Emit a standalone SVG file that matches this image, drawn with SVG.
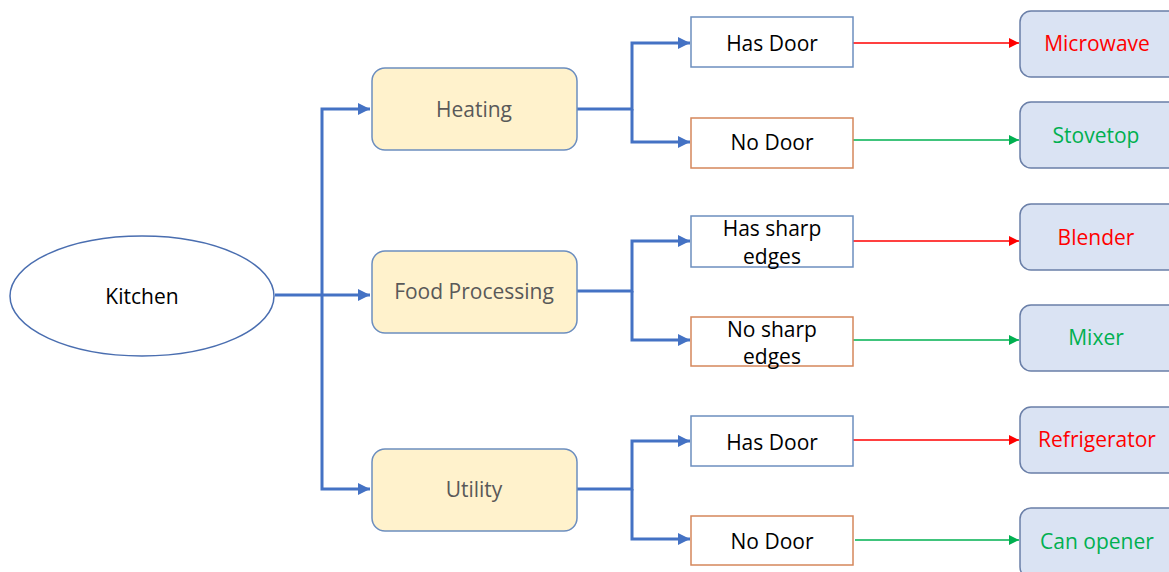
<svg xmlns="http://www.w3.org/2000/svg" width="1169" height="572" viewBox="0 0 1169 572">
  <style>
    text { font-family: "Open Sans", "Noto Sans", "Liberation Sans", sans-serif; font-size: 21px; text-anchor: middle; dominant-baseline: central; }
    .root { fill: none; stroke: #4a6eb0; stroke-width: 1.5; }
    .cat { fill: #fff2cc; stroke: #6c8ebf; stroke-width: 1.5; }
    .cat-t { fill: #595959; }
    .yes { fill: #ffffff; stroke: #6c8ebf; stroke-width: 1.5; }
    .no { fill: #ffffff; stroke: #d5875b; stroke-width: 1.5; }
    .q-t { fill: #000000; }
    .item { fill: #dae3f3; stroke: #6a7fa8; stroke-width: 1.5; }
    .red-t { fill: #ff0000; }
    .green-t { fill: #00b050; }
    .tree { fill: none; stroke: #4472c4; stroke-width: 3; }
    .red { fill: none; stroke: #ff0000; stroke-width: 1.5; }
    .green { fill: none; stroke: #00b050; stroke-width: 1.5; }
  </style>
  <defs>
    <marker id="ab" viewBox="0 0 10 10" refX="10" refY="5" markerWidth="4" markerHeight="4" orient="auto" markerUnits="strokeWidth">
      <path d="M0,0 L10,5 L0,10 z" fill="#4472c4"/>
    </marker>
    <marker id="ar" viewBox="0 0 10 10" refX="10" refY="5" markerWidth="7" markerHeight="7" orient="auto" markerUnits="strokeWidth">
      <path d="M0,0 L10,5 L0,10 z" fill="#ff0000"/>
    </marker>
    <marker id="ag" viewBox="0 0 10 10" refX="10" refY="5" markerWidth="7" markerHeight="7" orient="auto" markerUnits="strokeWidth">
      <path d="M0,0 L10,5 L0,10 z" fill="#00b050"/>
    </marker>
  </defs>

  <rect width="1169" height="572" fill="#ffffff"/>

  <!-- connectors -->
  <g id="connectors">
    <!-- kitchen to categories -->
    <path class="tree" d="M275,295 H370" marker-end="url(#ab)"/>
    <path class="tree" d="M322,295 V109 H370" marker-end="url(#ab)"/>
    <path class="tree" d="M322,295 V489 H370" marker-end="url(#ab)"/>
    <!-- heating -->
    <path class="tree" d="M577,109 H632 V43 H690" marker-end="url(#ab)"/>
    <path class="tree" d="M632,109 V142 H690" marker-end="url(#ab)"/>
    <!-- food processing -->
    <path class="tree" d="M577,291 H632 V241 H690" marker-end="url(#ab)"/>
    <path class="tree" d="M632,291 V340 H690" marker-end="url(#ab)"/>
    <!-- utility -->
    <path class="tree" d="M577,489 H632 V441 H690" marker-end="url(#ab)"/>
    <path class="tree" d="M632,489 V539 H690" marker-end="url(#ab)"/>
    <!-- outcomes -->
    <path class="red" d="M853,43 H1019" marker-end="url(#ar)"/>
    <path class="green" d="M853,140 H1019" marker-end="url(#ag)"/>
    <path class="red" d="M853,241 H1019" marker-end="url(#ar)"/>
    <path class="green" d="M853,340 H1019" marker-end="url(#ag)"/>
    <path class="red" d="M853,440 H1019" marker-end="url(#ar)"/>
    <path class="green" d="M855,540 H1019" marker-end="url(#ag)"/>
  </g>

  <g id="kitchen">
    <ellipse class="root" cx="142" cy="296" rx="132" ry="60" fill="#ffffff"/>
    <text x="142" y="296" class="q-t">Kitchen</text>
  </g>

  <g id="heating">
    <rect class="cat" x="372" y="68" width="205" height="82" rx="13"/>
    <text x="474" y="109" class="cat-t">Heating</text>
  </g>
  <g id="food-processing">
    <rect class="cat" x="372" y="251" width="205" height="82" rx="13"/>
    <text x="474" y="291" class="cat-t">Food Processing</text>
  </g>
  <g id="utility">
    <rect class="cat" x="372" y="449" width="205" height="82" rx="13"/>
    <text x="474" y="489" class="cat-t">Utility</text>
  </g>

  <g id="heating-has-door">
    <rect class="yes" x="691" y="17" width="162" height="50"/>
    <text x="772" y="43" class="q-t">Has Door</text>
  </g>
  <g id="heating-no-door">
    <rect class="no" x="691" y="118" width="162" height="50"/>
    <text x="772" y="142" class="q-t">No Door</text>
  </g>
  <g id="has-sharp-edges">
    <rect class="yes" x="691" y="216" width="162" height="51"/>
    <text x="772" y="228" class="q-t">Has sharp</text>
    <text x="772" y="256" class="q-t">edges</text>
  </g>
  <g id="no-sharp-edges">
    <rect class="no" x="691" y="317" width="162" height="49"/>
    <text x="772" y="329" class="q-t">No sharp</text>
    <text x="772" y="356" class="q-t">edges</text>
  </g>
  <g id="utility-has-door">
    <rect class="yes" x="691" y="416" width="162" height="50"/>
    <text x="772" y="442" class="q-t">Has Door</text>
  </g>
  <g id="utility-no-door">
    <rect class="no" x="691" y="516" width="162" height="49"/>
    <text x="772" y="541" class="q-t">No Door</text>
  </g>

  <g id="microwave">
    <rect class="item" x="1020" y="11" width="160" height="66" rx="11"/>
    <text x="1097" y="43" class="red-t">Microwave</text>
  </g>
  <g id="stovetop">
    <rect class="item" x="1020" y="102" width="160" height="66" rx="11"/>
    <text x="1096" y="135" class="green-t">Stovetop</text>
  </g>
  <g id="blender">
    <rect class="item" x="1020" y="204" width="160" height="66" rx="11"/>
    <text x="1096" y="237" class="red-t">Blender</text>
  </g>
  <g id="mixer">
    <rect class="item" x="1020" y="305" width="160" height="66" rx="11"/>
    <text x="1096" y="337" class="green-t">Mixer</text>
  </g>
  <g id="refrigerator">
    <rect class="item" x="1020" y="407" width="160" height="66" rx="11"/>
    <text x="1097" y="439" class="red-t">Refrigerator</text>
  </g>
  <g id="can-opener">
    <rect class="item" x="1020" y="508" width="160" height="70" rx="11"/>
    <text x="1097" y="541" class="green-t">Can opener</text>
  </g>
</svg>
